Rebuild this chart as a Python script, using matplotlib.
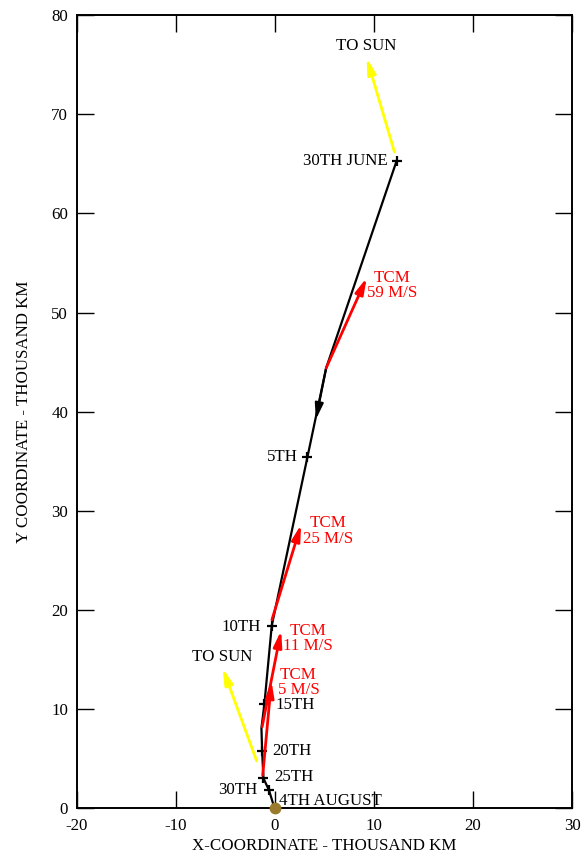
import matplotlib
matplotlib.use("Agg")
import matplotlib.pyplot as plt

plt.rcParams['font.family'] = ['Liberation Serif', 'DejaVu Serif']
plt.rcParams['axes.unicode_minus'] = False
FS = 12.2

# Trajectory (thousand km), from 30th June down to 4th August
traj_x = [12.3, 5.19, 3.3, -0.3, -1.04, -1.34, -1.27, -1.14, -0.58, -0.18]
traj_y = [65.3, 44.4, 35.4, 18.4, 10.5, 8.07, 5.7, 3.0, 1.8, 0.5]

# Dated points on the trajectory
date_x = [12.3, 3.3, -0.3, -1.04, -1.27, -1.14, -0.58]
date_y = [65.3, 35.4, 18.4, 10.5, 5.7, 3.0, 1.8]

# Trajectory correction manoeuvres: start point, tip, label
tcm_start_x = [5.19, -0.28, -1.27, -1.21]
tcm_start_y = [44.4, 19.0, 8.2, 3.3]
tcm_end_x = [9.28, 2.66, 0.65, -0.33]
tcm_end_y = [53.5, 28.6, 17.9, 12.8]
tcm_labels = ["TCM\n59 M/S", "TCM\n25 M/S", "TCM\n11 M/S", "TCM\n5 M/S"]
tcm_label_x = [11.88, 5.42, 3.34, 2.39]
tcm_label_y = [52.7, 27.95, 17.13, 12.65]

# Sun-direction arrows
sun_start_x = [12.08, -1.82]
sun_start_y = [66.2, 4.74]
sun_end_x = [9.28, -5.25]
sun_end_y = [75.7, 14.1]
sun_label_x = [9.22, -5.28]
sun_label_y = [76.9, 15.2]

# Date labels: text, x, y, alignment
date_labels = ["30TH JUNE", "5TH", "10TH", "15TH", "20TH", "25TH", "30TH", "4TH AUGUST"]
date_label_x = [11.37, 2.32, -1.37, 0.04, -0.26, -0.03, -1.72, 0.47]
date_label_y = [65.3, 35.4, 18.3, 10.4, 5.7, 3.16, 1.8, 0.7]
date_label_ha = ["right", "right", "right", "left", "left", "left", "right", "left"]

# Direction-of-motion marker along the trajectory
dir_from = (5.19, 44.4)
dir_to = (4.15, 39.2)

fig = plt.figure(figsize=(5.85, 8.56), dpi=100)
ax = fig.add_axes([0.1308, 0.0561, 0.8470, 0.9261])

ax.plot(traj_x, traj_y, color='black', lw=1.6, zorder=3)
ax.plot(date_x, date_y, ls='none', marker='+', ms=6.5, mew=1.6, color='black', zorder=4)

ax.annotate('', xy=dir_to, xytext=dir_from,
            arrowprops=dict(arrowstyle='-|>,head_length=0.95,head_width=0.25',
                            color='black', lw=1.6, shrinkA=0, shrinkB=0), zorder=4)

for sx, sy, ex, ey in zip(tcm_start_x, tcm_start_y, tcm_end_x, tcm_end_y):
    ax.annotate('', xy=(ex, ey), xytext=(sx, sy),
                arrowprops=dict(arrowstyle='-|>,head_length=0.95,head_width=0.25',
                                color='red', lw=2.0, shrinkA=0, shrinkB=0), zorder=5)
for t, x, y in zip(tcm_labels, tcm_label_x, tcm_label_y):
    ax.text(x, y, t, color='red', fontsize=FS, ha='center', va='center',
            linespacing=0.95, zorder=6)

for sx, sy, ex, ey in zip(sun_start_x, sun_start_y, sun_end_x, sun_end_y):
    ax.annotate('', xy=(ex, ey), xytext=(sx, sy),
                arrowprops=dict(arrowstyle='-|>,head_length=0.95,head_width=0.25',
                                color='#ffff00', lw=2.0, shrinkA=0, shrinkB=0), zorder=2)
for x, y in zip(sun_label_x, sun_label_y):
    ax.text(x, y, "TO SUN", fontsize=FS, ha='center', va='center', zorder=6)

for t, x, y, ha in zip(date_labels, date_label_x, date_label_y, date_label_ha):
    ax.text(x, y, t, fontsize=FS, ha=ha, va='center', zorder=6)

# Earth at the origin
ax.plot([0], [0], marker='o', ms=7.5, color='#9a7a2c', zorder=7, clip_on=False)

ax.set_xlim(-20, 30)
ax.set_ylim(0, 80)
ax.set_xticks([-20, -10, 0, 10, 20, 30])
ax.set_yticks([0, 10, 20, 30, 40, 50, 60, 70, 80])
ax.tick_params(direction='in', length=12, width=1.0, top=True, right=True,
               labelsize=FS)
ax.tick_params(axis='x', pad=7)
ax.tick_params(axis='y', pad=6)
for s in ax.spines.values():
    s.set_linewidth(1.4)
ax.set_xlabel("X-COORDINATE - THOUSAND KM", fontsize=FS, labelpad=3)
ax.set_ylabel("Y COORDINATE - THOUSAND KM", fontsize=FS, labelpad=14)

fig.savefig("out.png", dpi=100)
